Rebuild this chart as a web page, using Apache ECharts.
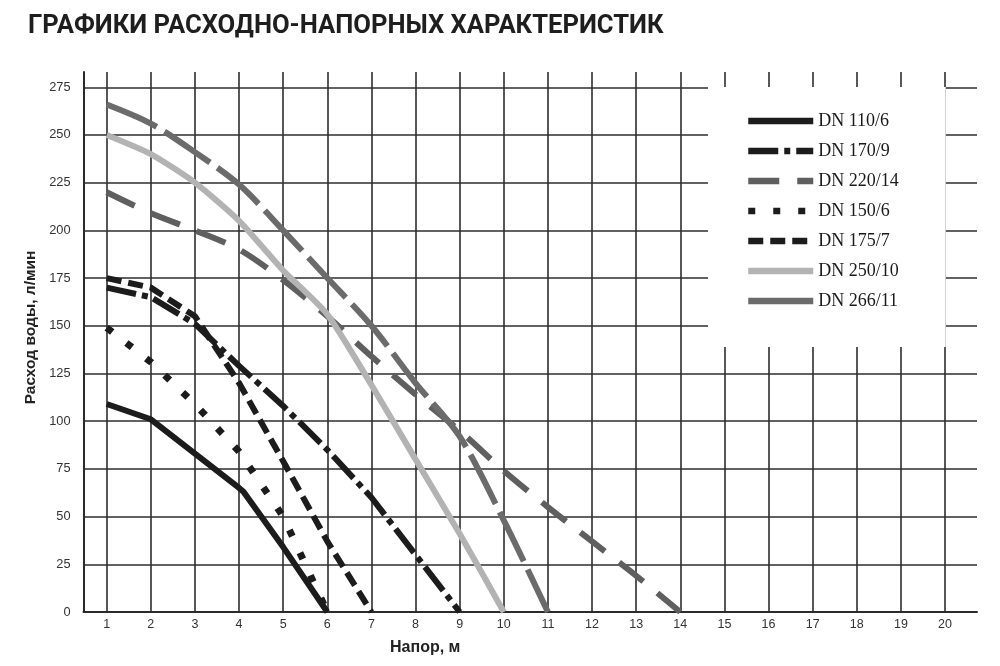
<!DOCTYPE html>
<html>
<head>
<meta charset="utf-8">
<script src="https://cdn.jsdelivr.net/npm/echarts@6/dist/echarts.min.js"></script>
<style>
html,body{margin:0;padding:0;background:#fff;}
#chart{width:1000px;height:666px;}
</style>
</head>
<body>
<div id="chart"></div>
<script>
// ---- data (x = напор, м ; y = расход, л/мин) ----
const xTicks = [1,2,3,4,5,6,7,8,9,10,11,12,13,14,15,16,17,18,19,20];
const yTicks = [0,25,50,75,100,125,150,175,200,225,250,275];

const seriesNames = ['DN 110/6','DN 170/9','DN 220/14','DN 150/6','DN 175/7','DN 250/10','DN 266/11'];

const dn110_6  = [[1,109],[2,101],[3,83],[4,65],[4.1,63],[5,34],[6,0]];
const dn170_9  = [[1,170],[2,165],[3,151],[4,129],[5,108],[6,85],[7,60],[8,30],[9,0]];
const dn220_14 = [[1,220],[2,209],[3,200],[4,190],[5,174],[6,155],[7,134],[8,114],[9,95],[10,74],[11,55],[12,37],[13,19],[14,0]];
const dn150_6  = [[1,149],[2,131],[3,109],[4,84],[5,50],[6,0]];
const dn175_7  = [[1,175],[2,170],[3,155],[4,120],[5,79],[6,37],[7,0]];
const dn250_10 = [[1,250],[2,240],[3,225],[4,205],[5,179],[6,156],[7,119],[8,80],[9,41],[10,0]];
const dn266_11 = [[1,266],[2,256],[3,241],[4,224],[5,200],[6,175],[7,150],[8,120],[9,92],[10,48],[11,0]];

const seriesData = [dn110_6, dn170_9, dn220_14, dn150_6, dn175_7, dn250_10, dn266_11];

const lineStyles = [
  {color:'#1c1c1c', width:6, type:'solid', smooth:false},
  {color:'#1c1c1c', width:6, type:[30,6,6,6], smooth:false},
  {color:'#5f5f5f', width:6, type:[31,18], smooth:0.3},
  {color:'#1c1c1c', width:7, type:[7,18], smooth:false},
  {color:'#1c1c1c', width:6, type:[15,7], smooth:false},
  {color:'#b3b3b3', width:6, type:'solid', smooth:0.2},
  {color:'#6b6b6b', width:6, type:[55,9], smooth:0.3}
];

const legendItems = seriesNames.map(n => n === 'DN 266/11' ? {name:n, lineStyle:{type:'solid'}} : {name:n});

const chart = echarts.init(document.getElementById('chart'), null, {renderer:'canvas'});

const option = {
  backgroundColor:'#ffffff',
  animation:false,
  title:{
    text:'ГРАФИКИ РАСХОДНО-НАПОРНЫХ ХАРАКТЕРИСТИК',
    left:23, top:9,
    textStyle:{fontFamily:'Roboto', fontWeight:'bold', fontSize:25.6, color:'#1e1e1e'}
  },
  grid:{left:83.5, right:23, top:72, bottom:54},
  legend:{
    orient:'vertical',
    left:708, top:87,
    padding:[25,47,37,37],
    backgroundColor:'#ffffff',
    itemWidth:65, itemHeight:20, itemGap:12,
    data:legendItems,
    lineStyle:{width:6.5},
    itemStyle:{opacity:0, color:'rgba(0,0,0,0)', borderWidth:0},
    textStyle:{fontFamily:'Liberation Serif', fontSize:18, color:'#1a1a1a'},
    selectedMode:false
  },
  xAxis:{
    type:'value',
    min:0.474, max:20.725,
    name:'Напор, м',
    nameLocation:'middle',
    nameGap:28,
    nameTextStyle:{fontFamily:'Liberation Sans', fontWeight:'bold', fontSize:16, color:'#222', padding:[0,210,0,0]},
    axisLine:{show:true, lineStyle:{color:'#2a2a2a', width:2}},
    axisTick:{show:false, customValues:xTicks},
    axisLabel:{customValues:xTicks, margin:6, fontFamily:'Liberation Sans', fontSize:12.5, color:'#333'},
    splitLine:{show:true, lineStyle:{color:'#2e2e2e', width:1.6}}
  },
  yAxis:{
    type:'value',
    min:0, max:283,
    name:'Расход воды, л/мин',
    nameLocation:'middle',
    nameRotate:90,
    nameGap:45,
    nameTextStyle:{fontFamily:'Liberation Sans', fontWeight:'bold', fontSize:15.5, color:'#222', padding:[0,0,0,29]},
    axisLine:{show:true, lineStyle:{color:'#2a2a2a', width:2}},
    axisTick:{show:false, customValues:yTicks},
    axisLabel:{customValues:yTicks, margin:13, fontFamily:'Liberation Sans', fontSize:12.8, color:'#333'},
    splitLine:{show:true, lineStyle:{color:'#2e2e2e', width:1.6}}
  },
  series: seriesNames.map((name, i) => ({
    name: name,
    type:'line',
    data: seriesData[i],
    symbol:'none',
    smooth: lineStyles[i].smooth,
    lineStyle:{color:lineStyles[i].color, width:lineStyles[i].width, type:lineStyles[i].type, cap:'butt'},
    itemStyle:{color:lineStyles[i].color},
    z: 2
  }))
};

chart.setOption(option);
</script>
</body>
</html>
